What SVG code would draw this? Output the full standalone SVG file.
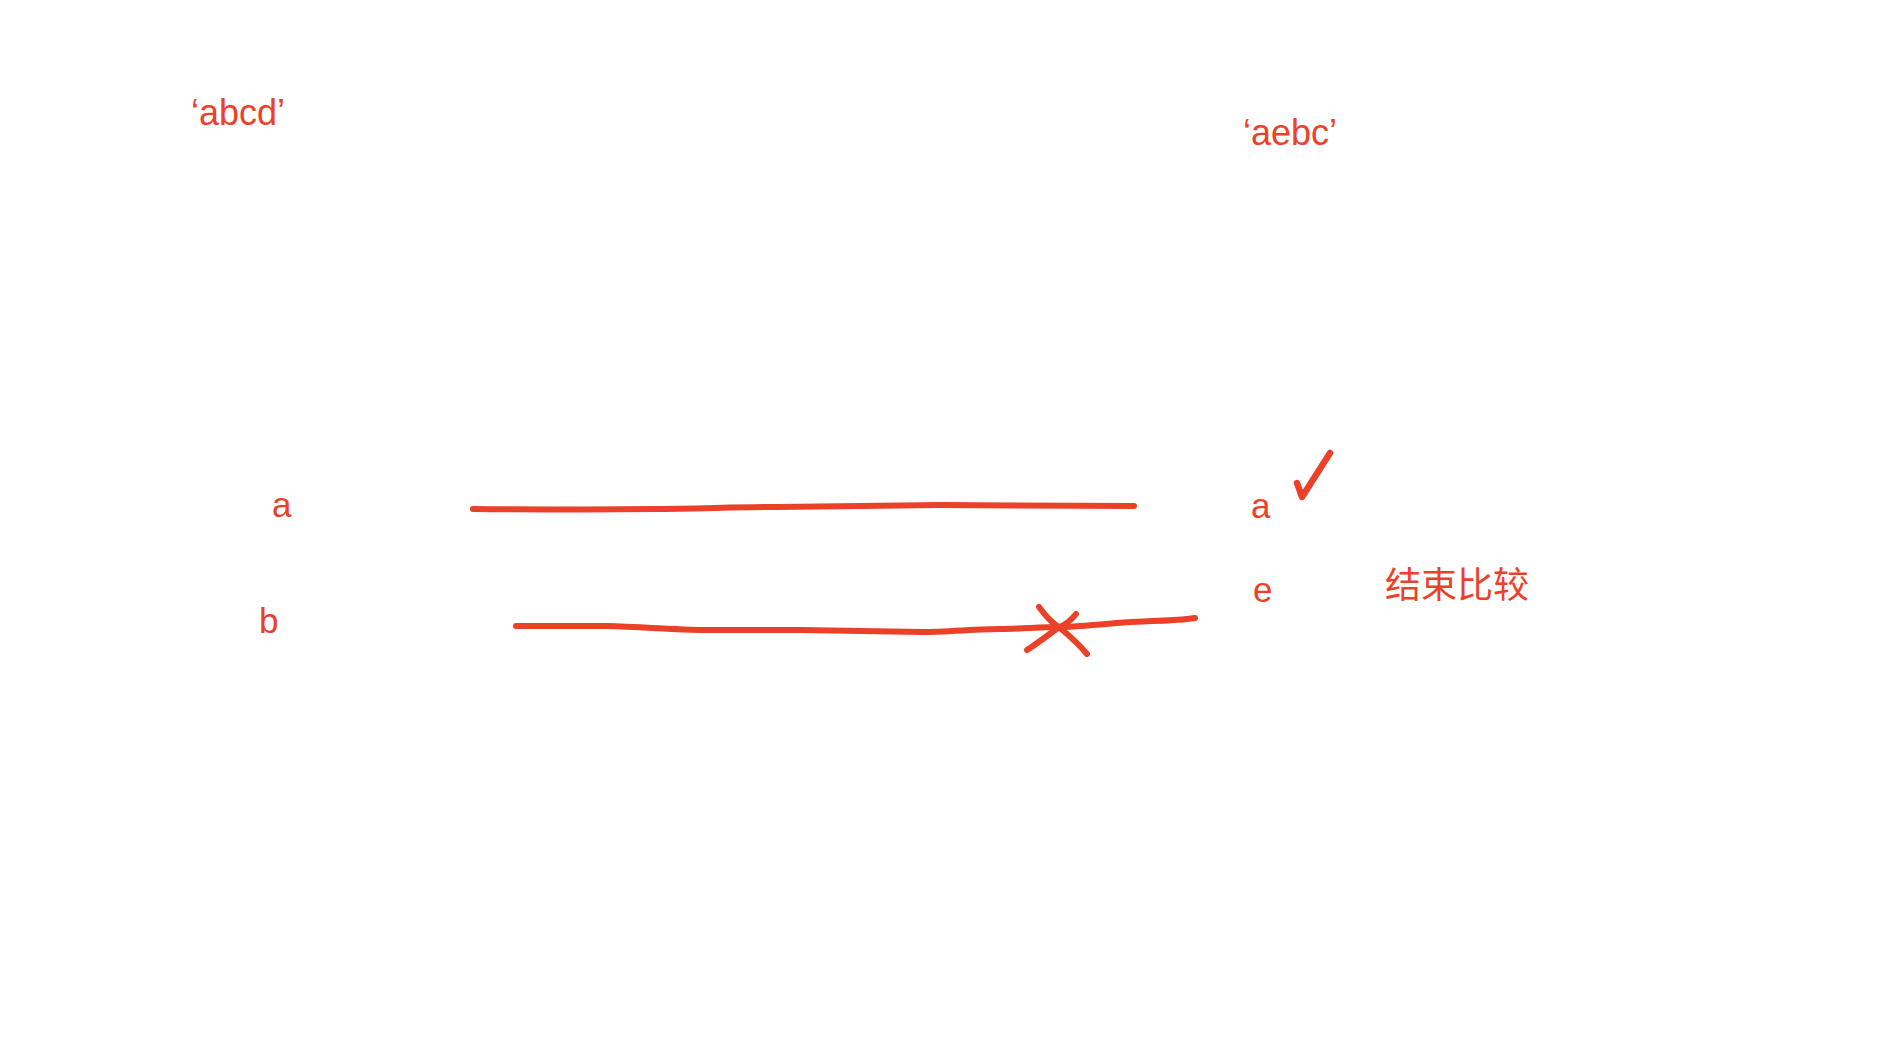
<svg xmlns="http://www.w3.org/2000/svg" width="1902" height="1042" viewBox="0 0 1902 1042">
<style>
.t{font-family:"Liberation Sans","Noto Sans CJK SC",sans-serif;font-size:35px;fill:#EB4129}
.q{font-size:36px}
.s{fill:none;stroke:#EB4129;stroke-width:6;stroke-linecap:round;stroke-linejoin:round}
</style>
<rect width="1902" height="1042" fill="#fff"/>
<g id="label-abcd"><text class="t q" x="191" y="125">‘abcd’</text></g>
<g id="label-aebc"><text class="t q" x="1243" y="145">‘aebc’</text></g>
<g id="left-a"><text class="t" x="272" y="517">a</text></g>
<g id="left-b"><text class="t" x="259" y="633">b</text></g>
<g id="right-a"><text class="t" x="1251" y="518">a</text></g>
<g id="right-e"><text class="t" x="1253" y="602">e</text></g>
<g id="end-label"><text class="t" x="1385" y="598" style="font-size:36px">结束比较</text></g>
<g id="connectors">
<path class="s" d="M473,509 C560,510 620,509 655,509 S740,507 776,507 S900,505 940,505 S1050,506 1134,506"/>
<path class="s" d="M516,626 C560,626 590,626 607,626 S680,630 704,630 S780,630 801,630 S900,632 922,632 S980,629 1000,629 S1040,627 1059,627 S1120,622 1152,621 S1185,619 1195,618"/>
<path class="s" d="M1039,607 Q1050,622 1059,627 Q1078,643 1087,654"/>
<path class="s" d="M1076,614 Q1068,624 1059,627 Q1042,640 1027,650"/>
<path class="s" d="M1297,483 L1302,497 L1330,453" style="stroke-width:6.5"/>
</g>
</svg>
